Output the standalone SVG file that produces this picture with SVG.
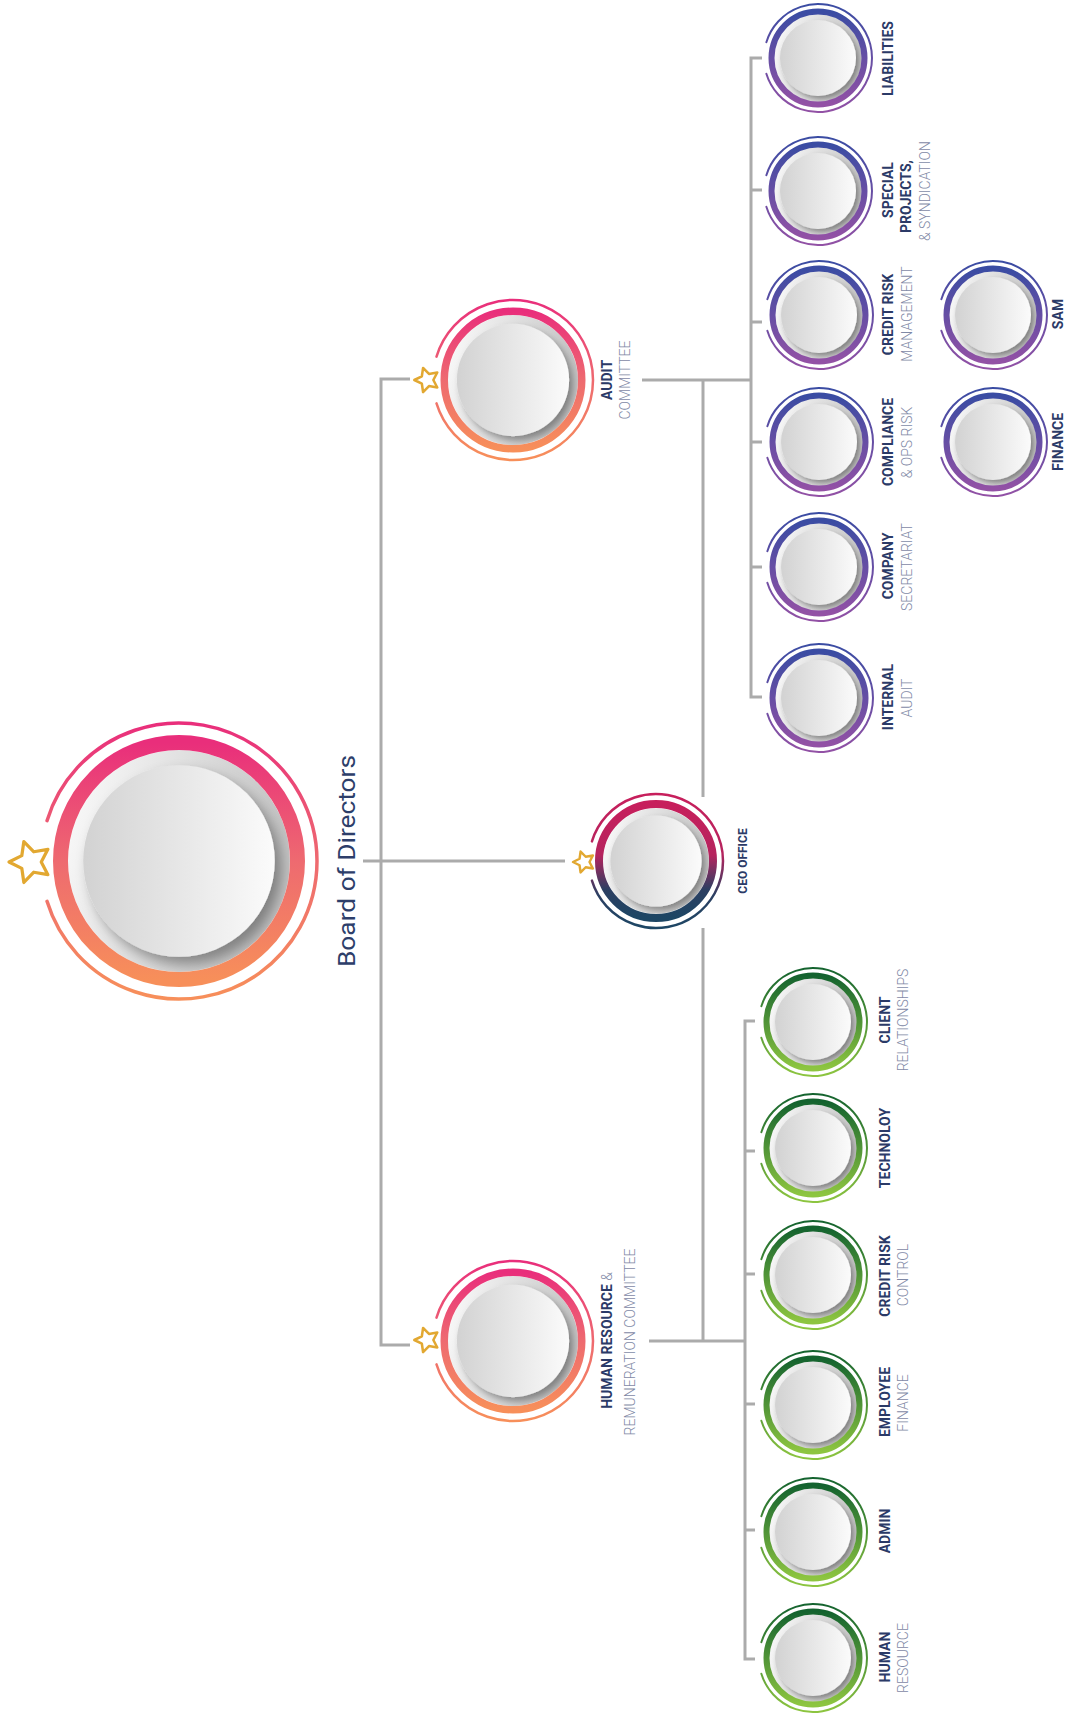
<svg xmlns="http://www.w3.org/2000/svg" xmlns:xlink="http://www.w3.org/1999/xlink" width="1072" height="1715" viewBox="0 0 1072 1715">
  <defs>
    <style>
      .link { fill: none; stroke: #ababab; stroke-width: 3; }
      .lbl { font-family: Roboto, "Liberation Sans", sans-serif; font-size: 14px; text-anchor: middle; }
      .b { font-weight: 700; fill: #2b3a67; }
      .l { font-weight: 300; fill: #7f89a6; }
      .star { fill: #ffffff; stroke: #e2a831; stroke-linejoin: round; }
    </style>
    <!-- ring colour ramps, top to bottom -->
    <linearGradient id="gWarm" x1="0" y1="0" x2="0" y2="1">
      <stop offset="0" stop-color="#e92e7b"/>
      <stop offset="0.5" stop-color="#ee6a70"/>
      <stop offset="1" stop-color="#f78f5a"/>
    </linearGradient>
    <linearGradient id="gCeo" x1="0" y1="0" x2="0" y2="1">
      <stop offset="0" stop-color="#c71f5c"/>
      <stop offset="0.45" stop-color="#b5245e"/>
      <stop offset="0.75" stop-color="#2c3f62"/>
      <stop offset="1" stop-color="#1d4664"/>
    </linearGradient>
    <linearGradient id="gPurple" x1="0" y1="0" x2="0" y2="1">
      <stop offset="0" stop-color="#3a4ca3"/>
      <stop offset="1" stop-color="#9251a5"/>
    </linearGradient>
    <linearGradient id="gGreen" x1="0" y1="0" x2="0" y2="1">
      <stop offset="0" stop-color="#14632f"/>
      <stop offset="1" stop-color="#8dc540"/>
    </linearGradient>
    <!-- knob shading -->
    <linearGradient id="gDisc" x1="0" y1="0" x2="1" y2="0.3">
      <stop offset="0" stop-color="#fdfdfd"/>
      <stop offset="1" stop-color="#c2c2c2"/>
    </linearGradient>
    <linearGradient id="gFace" x1="0" y1="0" x2="1" y2="0">
      <stop offset="0" stop-color="#d2d2d2"/>
      <stop offset="1" stop-color="#fbfbfb"/>
    </linearGradient>
    <filter id="sh" x="-30%" y="-30%" width="160%" height="160%">
      <feDropShadow dx="2.5" dy="3" stdDeviation="2.5" flood-color="#000000" flood-opacity="0.35"/>
    </filter>
    <g id="knob">
      <circle r="44" fill="url(#gDisc)"/>
      <circle r="38" fill="url(#gFace)" filter="url(#sh)"/>
    </g>
    <!-- outer broken arcs, open on the left -->
    <path id="arcMain" d="M-131.97,-40.35 A138,138 0 1 1 -131.97,40.35" fill="none"/>
    <path id="arcMid" d="M-76.5,-23.39 A80,80 0 1 1 -76.5,23.39" fill="none"/>
    <path id="arcCeo" d="M-64.07,-19.59 A67,67 0 1 1 -64.07,19.59" fill="none"/>
    <path id="arcSm" d="M-51.64,-15.79 A54,54 0 1 1 -51.64,15.79" fill="none"/>
    <polygon id="starShape" points="-10,0 -4.05,-2.94 -3.09,-9.51 1.55,-4.76 8.09,-5.88 5,0 8.09,5.88 1.55,4.76 -3.09,9.51 -4.05,2.94"/>
  </defs>

  <rect width="1072" height="1715" fill="#ffffff"/>

  <!-- connectors -->
  <g id="connectors">
    <path class="link" d="M363,861 H565"/>
    <path class="link" d="M410,379 H381 V1345 H410"/>
    <path class="link" d="M642,380 H751"/>
    <path class="link" d="M762,58 H751 V697 H762 M751,190 H762 M751,322 H762 M751,442 H762 M751,567 H762"/>
    <path class="link" d="M703,380 V797"/>
    <path class="link" d="M703,928 V1341"/>
    <path class="link" d="M649,1341 H745"/>
    <path class="link" d="M755,1021 H745 V1659 H755 M745,1151 H755 M745,1274 H755 M745,1404 H755 M745,1530 H755"/>
  </g>

  <!-- board -->
  <g id="board">
    <use href="#knob" transform="translate(179,861) scale(2.52)"/>
    <circle cx="179" cy="861" r="118.5" fill="none" stroke="url(#gWarm)" stroke-width="15"/>
    <use href="#arcMain" x="179" y="861" stroke="url(#gWarm)" stroke-width="3.5" stroke-linecap="round"/>
    <use href="#starShape" class="star" transform="translate(30.5,862) scale(2.15)" stroke-width="1.5"/>
    <text transform="translate(355,861) rotate(-90)" font-family="Roboto, 'Liberation Sans', sans-serif" font-size="24" fill="#2d3e6a" text-anchor="middle" textLength="212" lengthAdjust="spacingAndGlyphs">Board of Directors</text>
  </g>

  <!-- audit committee -->
  <g id="audit-committee">
    <use href="#knob" transform="translate(513,380) scale(1.477)"/>
    <circle cx="513" cy="380" r="68.75" fill="none" stroke="url(#gWarm)" stroke-width="7.5"/>
    <use href="#arcMid" x="513" y="380" stroke="url(#gWarm)" stroke-width="2.5" stroke-linecap="round"/>
    <use href="#starShape" class="star" transform="translate(427,380) scale(1.27)" stroke-width="2"/>
    <text class="lbl b" transform="translate(612,380) rotate(-90)">AUDIT</text>
    <text class="lbl l" transform="translate(630,380) rotate(-90)">COMMITTEE</text>
  </g>

  <!-- ceo office -->
  <g id="ceo-office">
    <use href="#knob" transform="translate(656,861) scale(1.2)"/>
    <circle cx="656" cy="861" r="57" fill="none" stroke="url(#gCeo)" stroke-width="8"/>
    <use href="#arcCeo" x="656" y="861" stroke="url(#gCeo)" stroke-width="2.5" stroke-linecap="round"/>
    <use href="#starShape" class="star" transform="translate(584,862) scale(1.1)" stroke-width="2.2"/>
    <text transform="translate(747,861) rotate(-90)" font-family="Roboto, 'Liberation Sans', sans-serif" font-size="12" font-weight="700" fill="#2b3a67" text-anchor="middle">CEO OFFICE</text>
  </g>

  <!-- hr & remuneration committee -->
  <g id="hr-committee">
    <use href="#knob" transform="translate(513,1341) scale(1.477)"/>
    <circle cx="513" cy="1341" r="68.75" fill="none" stroke="url(#gWarm)" stroke-width="7.5"/>
    <use href="#arcMid" x="513" y="1341" stroke="url(#gWarm)" stroke-width="2.5" stroke-linecap="round"/>
    <use href="#starShape" class="star" transform="translate(427,1340) scale(1.27)" stroke-width="2"/>
    <text class="lbl" transform="translate(612,1340.5) rotate(-90)"><tspan class="b">HUMAN RESOURCE</tspan><tspan class="l"> &amp;</tspan></text>
    <text class="lbl l" transform="translate(635,1342) rotate(-90)">REMUNERATION COMMITTEE</text>
  </g>

  <!-- audit side units -->
  <g id="liabilities">
    <use href="#knob" transform="translate(818,58)"/>
    <circle cx="818" cy="58" r="46.5" fill="none" stroke="url(#gPurple)" stroke-width="6"/>
    <use href="#arcSm" x="818" y="58" stroke="url(#gPurple)" stroke-width="2" stroke-linecap="round"/>
    <text class="lbl b" transform="translate(893,58.5) rotate(-90)">LIABILITIES</text>
  </g>
  <g id="special-projects">
    <use href="#knob" transform="translate(818,191)"/>
    <circle cx="818" cy="191" r="46.5" fill="none" stroke="url(#gPurple)" stroke-width="6"/>
    <use href="#arcSm" x="818" y="191" stroke="url(#gPurple)" stroke-width="2" stroke-linecap="round"/>
    <text class="lbl b" transform="translate(893,190) rotate(-90)">SPECIAL</text>
    <text class="lbl b" transform="translate(911,196.5) rotate(-90)">PROJECTS,</text>
    <text class="lbl l" transform="translate(930,191) rotate(-90)">&amp; SYNDICATION</text>
  </g>
  <g id="credit-risk-management">
    <use href="#knob" transform="translate(819,315)"/>
    <circle cx="819" cy="315" r="46.5" fill="none" stroke="url(#gPurple)" stroke-width="6"/>
    <use href="#arcSm" x="819" y="315" stroke="url(#gPurple)" stroke-width="2" stroke-linecap="round"/>
    <text class="lbl b" transform="translate(893,314.5) rotate(-90)">CREDIT RISK</text>
    <text class="lbl l" transform="translate(912,314) rotate(-90)">MANAGEMENT</text>
  </g>
  <g id="compliance">
    <use href="#knob" transform="translate(819,442)"/>
    <circle cx="819" cy="442" r="46.5" fill="none" stroke="url(#gPurple)" stroke-width="6"/>
    <use href="#arcSm" x="819" y="442" stroke="url(#gPurple)" stroke-width="2" stroke-linecap="round"/>
    <text class="lbl b" transform="translate(893,442) rotate(-90)">COMPLIANCE</text>
    <text class="lbl l" transform="translate(912,442.5) rotate(-90)">&amp; OPS RISK</text>
  </g>
  <g id="company-secretariat">
    <use href="#knob" transform="translate(819,567)"/>
    <circle cx="819" cy="567" r="46.5" fill="none" stroke="url(#gPurple)" stroke-width="6"/>
    <use href="#arcSm" x="819" y="567" stroke="url(#gPurple)" stroke-width="2" stroke-linecap="round"/>
    <text class="lbl b" transform="translate(893,566) rotate(-90)">COMPANY</text>
    <text class="lbl l" transform="translate(912,567) rotate(-90)">SECRETARIAT</text>
  </g>
  <g id="internal-audit">
    <use href="#knob" transform="translate(819,698)"/>
    <circle cx="819" cy="698" r="46.5" fill="none" stroke="url(#gPurple)" stroke-width="6"/>
    <use href="#arcSm" x="819" y="698" stroke="url(#gPurple)" stroke-width="2" stroke-linecap="round"/>
    <text class="lbl b" transform="translate(893,697) rotate(-90)">INTERNAL</text>
    <text class="lbl l" transform="translate(912,698) rotate(-90)">AUDIT</text>
  </g>
  <g id="sam">
    <use href="#knob" transform="translate(993,315)"/>
    <circle cx="993" cy="315" r="46.5" fill="none" stroke="url(#gPurple)" stroke-width="6"/>
    <use href="#arcSm" x="993" y="315" stroke="url(#gPurple)" stroke-width="2" stroke-linecap="round"/>
    <text class="lbl b" transform="translate(1063,314) rotate(-90)">SAM</text>
  </g>
  <g id="finance">
    <use href="#knob" transform="translate(993,442)"/>
    <circle cx="993" cy="442" r="46.5" fill="none" stroke="url(#gPurple)" stroke-width="6"/>
    <use href="#arcSm" x="993" y="442" stroke="url(#gPurple)" stroke-width="2" stroke-linecap="round"/>
    <text class="lbl b" transform="translate(1063,442) rotate(-90)">FINANCE</text>
  </g>

  <!-- hr side units -->
  <g id="client-relationships">
    <use href="#knob" transform="translate(813,1022)"/>
    <circle cx="813" cy="1022" r="46.5" fill="none" stroke="url(#gGreen)" stroke-width="6"/>
    <use href="#arcSm" x="813" y="1022" stroke="url(#gGreen)" stroke-width="2" stroke-linecap="round"/>
    <text class="lbl b" transform="translate(890,1020) rotate(-90)">CLIENT</text>
    <text class="lbl l" transform="translate(908,1020) rotate(-90)">RELATIONSHIPS</text>
  </g>
  <g id="technology">
    <use href="#knob" transform="translate(813,1148)"/>
    <circle cx="813" cy="1148" r="46.5" fill="none" stroke="url(#gGreen)" stroke-width="6"/>
    <use href="#arcSm" x="813" y="1148" stroke="url(#gGreen)" stroke-width="2" stroke-linecap="round"/>
    <text class="lbl b" transform="translate(890,1148) rotate(-90)">TECHNOLOY</text>
  </g>
  <g id="credit-risk-control">
    <use href="#knob" transform="translate(813,1275)"/>
    <circle cx="813" cy="1275" r="46.5" fill="none" stroke="url(#gGreen)" stroke-width="6"/>
    <use href="#arcSm" x="813" y="1275" stroke="url(#gGreen)" stroke-width="2" stroke-linecap="round"/>
    <text class="lbl b" transform="translate(890,1276) rotate(-90)">CREDIT RISK</text>
    <text class="lbl l" transform="translate(908,1275) rotate(-90)">CONTROL</text>
  </g>
  <g id="employee-finance">
    <use href="#knob" transform="translate(813,1405)"/>
    <circle cx="813" cy="1405" r="46.5" fill="none" stroke="url(#gGreen)" stroke-width="6"/>
    <use href="#arcSm" x="813" y="1405" stroke="url(#gGreen)" stroke-width="2" stroke-linecap="round"/>
    <text class="lbl b" transform="translate(890,1402) rotate(-90)">EMPLOYEE</text>
    <text class="lbl l" transform="translate(908,1403) rotate(-90)">FINANCE</text>
  </g>
  <g id="admin">
    <use href="#knob" transform="translate(813,1532)"/>
    <circle cx="813" cy="1532" r="46.5" fill="none" stroke="url(#gGreen)" stroke-width="6"/>
    <use href="#arcSm" x="813" y="1532" stroke="url(#gGreen)" stroke-width="2" stroke-linecap="round"/>
    <text class="lbl b" transform="translate(890,1531) rotate(-90)">ADMIN</text>
  </g>
  <g id="human-resource">
    <use href="#knob" transform="translate(813,1658)"/>
    <circle cx="813" cy="1658" r="46.5" fill="none" stroke="url(#gGreen)" stroke-width="6"/>
    <use href="#arcSm" x="813" y="1658" stroke="url(#gGreen)" stroke-width="2" stroke-linecap="round"/>
    <text class="lbl b" transform="translate(890,1657) rotate(-90)">HUMAN</text>
    <text class="lbl l" transform="translate(908,1658) rotate(-90)">RESOURCE</text>
  </g>
</svg>
